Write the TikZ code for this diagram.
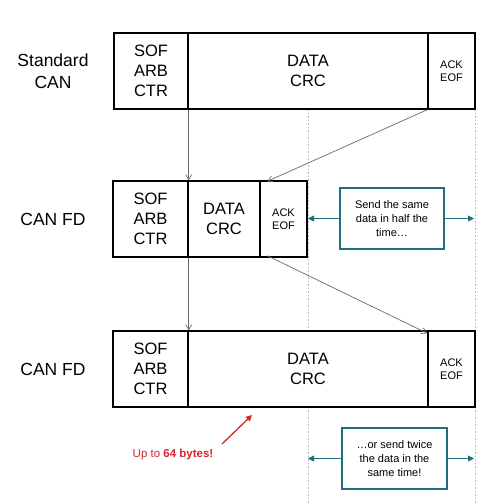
\documentclass[tikz,border=0pt]{standalone}
\usepackage{fontspec}
\setmainfont{Liberation Sans}
\usetikzlibrary{arrows.meta}
\definecolor{teal1}{HTML}{1F6E82}
\definecolor{red1}{HTML}{D4272B}
\definecolor{gray1}{HTML}{6A6A6A}
\begin{document}
\begin{tikzpicture}[x=1pt,y=-1pt,
  seg/.style={draw=black,line width=1.4pt,fill=white,minimum height=76pt,inner sep=0pt,align=center,
    font=\fontsize{16.5}{20}\selectfont},
  smallseg/.style={seg,font=\fontsize{11}{13.5}\selectfont},
  rowlabel/.style={align=center,font=\fontsize{17.5}{22}\selectfont},
  tealbox/.style={draw=teal1,line width=1.4pt,fill=white,minimum width=104pt,minimum height=61pt,align=center,
    inner sep=0pt,font=\fontsize{11}{14}\selectfont},
  tealarrow/.style={draw=teal1,line width=0.9pt,-{Triangle[length=6pt,width=6pt]}},
  grayarrow/.style={draw=gray1,line width=0.7pt,-{Straight Barb[length=5pt,width=6pt]}},
  guide/.style={draw=gray!55,line width=0.6pt,dash pattern=on 1.5pt off 2pt}]
\useasboundingbox (0,0) rectangle (500,504);
\fill[white] (0,0) rectangle (500,504);
% guide lines
\draw[guide] (308,109) -- (308,504);
\draw[guide] (475,109) -- (475,504);
% labels
\node[rowlabel] (l1) at (53,71) {Standard\\CAN};
\node[rowlabel] (l2) at (53,219) {CAN FD};
\node[rowlabel] (l3) at (53,369) {CAN FD};
% row 1
\node[seg,minimum width=74pt] (a1) at (151,71) {SOF\\ARB\\CTR};
\node[seg,minimum width=240pt] (a2) at (308,71) {DATA\\CRC};
\node[smallseg,minimum width=47pt] (a3) at (451.5,71) {ACK\\EOF};
% row 2
\node[seg,minimum width=75pt] (b1) at (150.5,219) {SOF\\ARB\\CTR};
\node[seg,minimum width=72pt] (b2) at (224,219) {DATA\\CRC};
\node[smallseg,minimum width=47pt] (b3) at (283.5,219) {ACK\\EOF};
% row 3
\node[seg,minimum width=75pt] (c1) at (150.5,369) {SOF\\ARB\\CTR};
\node[seg,minimum width=240pt] (c2) at (308,369) {DATA\\CRC};
\node[smallseg,minimum width=47pt] (c3) at (451.5,369) {ACK\\EOF};
% gray arrows
\draw[grayarrow] (a1.south east) -- (b1.north east);
\draw[grayarrow] (a3.south west) -- ([xshift=8pt,yshift=-1pt]b3.north west);
\draw[grayarrow] (b1.south east) -- (c1.north east);
\draw[grayarrow] ([xshift=8pt,yshift=2pt]b3.south west) -- ([yshift=-3pt]c3.north west);
% teal boxes
\node[tealbox] (t1) at (392,218.5) {Send the same\\data in half the\\time\dots};
\coordinate (t1l) at (308,218.5);
\coordinate (t1r) at (474,218.5);
\draw[tealarrow] (t1.west) -- (t1l);
\draw[tealarrow] (t1.east) -- (t1r);
\node[tealbox,minimum width=105pt] (t2) at (394.5,458.5) {\dots or send twice\\the data in the\\same time!};
\coordinate (t2l) at (308,458.5);
\coordinate (t2r) at (474,458.5);
\draw[tealarrow] (t2.west) -- (t2l);
\draw[tealarrow] (t2.east) -- (t2r);
% red note
\node[text=red1,font=\fontsize{11.5}{13}\selectfont,inner sep=0pt] (note) at (173,455) {Up to \textbf{64 bytes!}};
\coordinate (rs) at (222,444);
\coordinate (re) at (252,415);
\draw[draw=red1,line width=1.3pt,-{Triangle[length=6pt,width=6pt]}] (rs) -- (re);
\end{tikzpicture}
\end{document}
